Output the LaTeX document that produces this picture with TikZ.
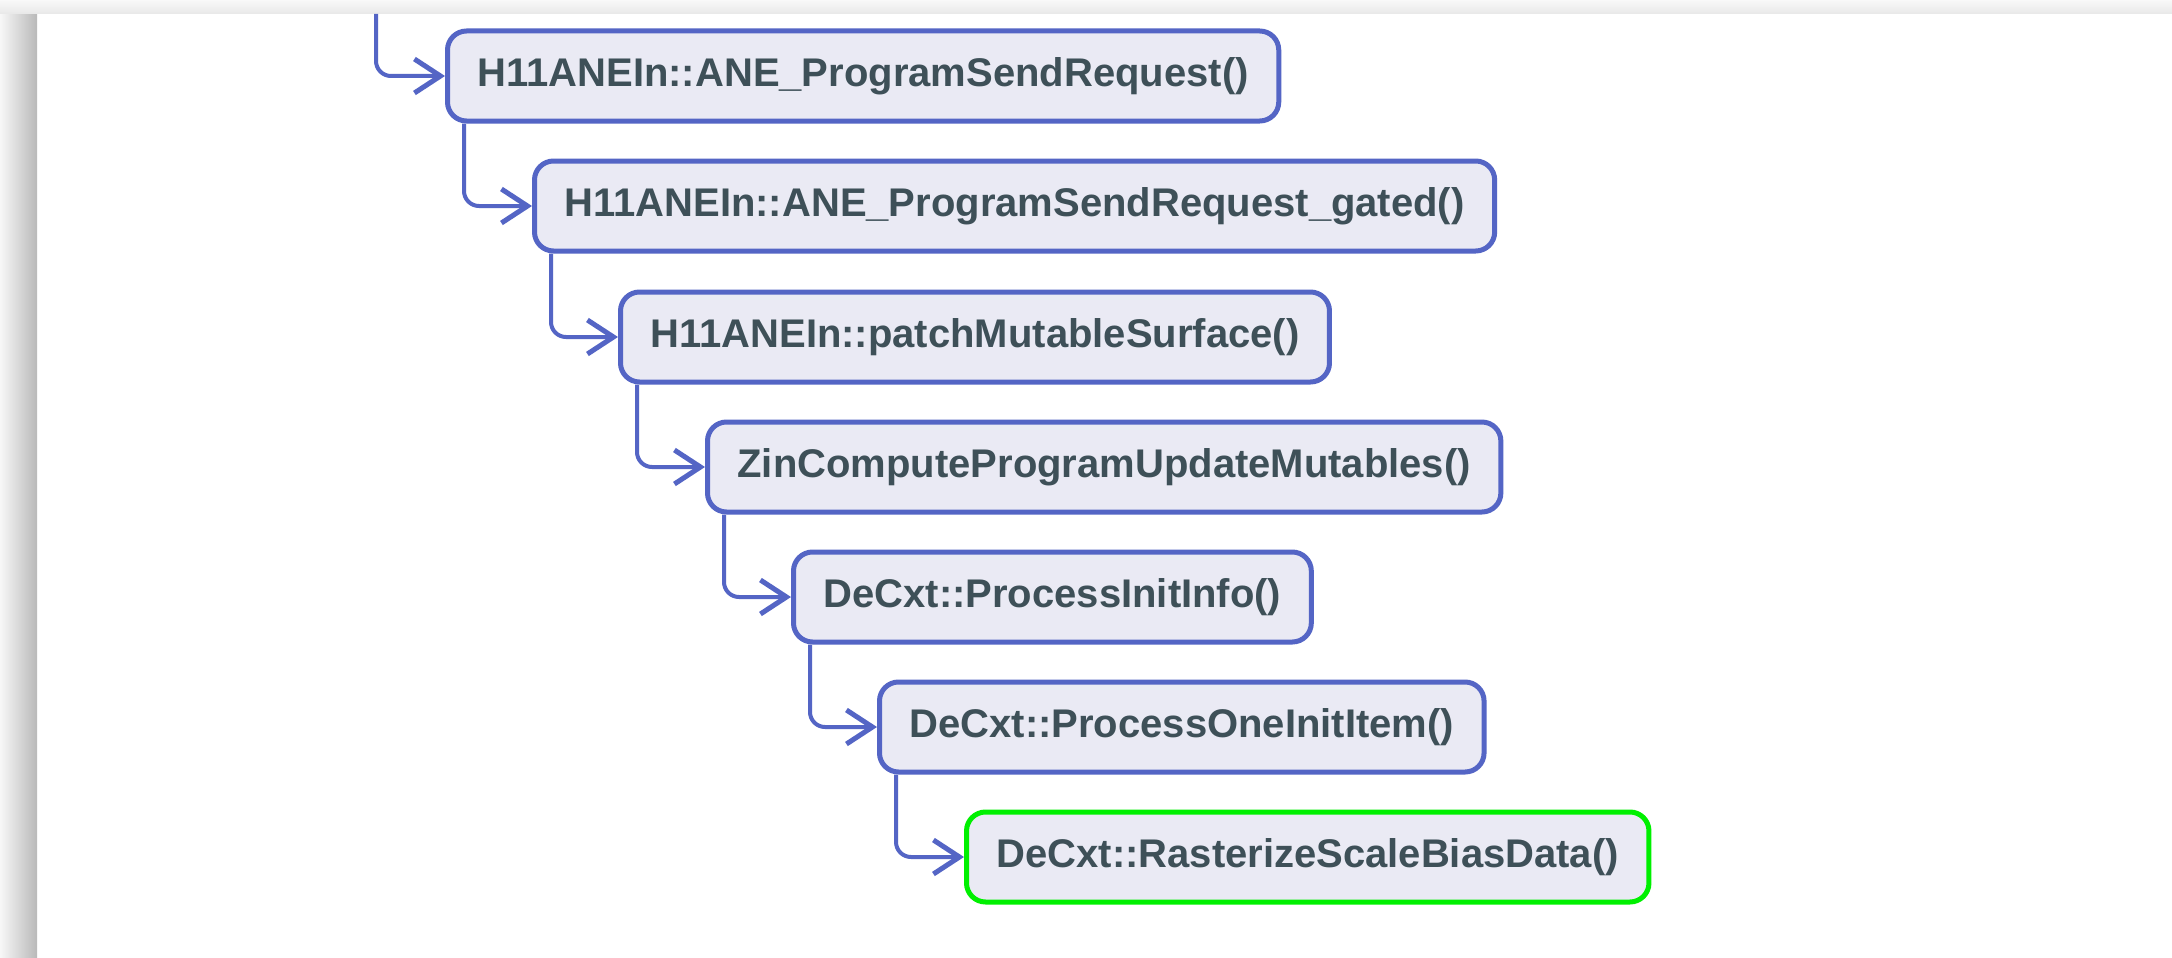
\documentclass[tikz,border=0pt]{standalone}
\usepackage{fontspec}
\setmainfont{Liberation Sans}
\usetikzlibrary{arrows.meta}
\definecolor{edgeblue}{HTML}{5465C5}
\definecolor{boxfill}{HTML}{EAEAF4}
\definecolor{txt}{HTML}{3E5058}
\definecolor{lime}{HTML}{00F000}
\tikzset{
  callbox/.style={draw=edgeblue, line width=5pt, fill=boxfill, rounded corners=19pt,
    minimum height=90pt, inner xsep=30pt, anchor=west, text=txt,
    font=\fontsize{40}{48}\selectfont\bfseries},
  hitbox/.style={callbox, draw=lime},
  conn/.style={draw=edgeblue, line width=4pt, rounded corners=15pt,
    -{Straight Barb[length=26pt, width=34pt, line width=5pt]}}
}
\begin{document}
\begin{tikzpicture}[x=1pt, y=-1pt]
\useasboundingbox (0,0) rectangle (2172,958);
\fill[white] (0,0) rectangle (2172,958);
\shade[left color=gray!6, right color=gray!55] (0,14) rectangle (37,958);
\shade[top color=gray!5, bottom color=gray!18] (0,0) rectangle (2172,14);
\node[callbox] (n1) at (445,76) {H11ANEIn::ANE\_ProgramSendRequest()};
\node[callbox] (n2) at (532,206) {H11ANEIn::ANE\_ProgramSendRequest\_gated()};
\node[callbox] (n3) at (618,337) {H11ANEIn::patchMutableSurface()};
\node[callbox] (n4) at (705,467) {ZinComputeProgramUpdateMutables()};
\node[callbox] (n5) at (791,597) {DeCxt::ProcessInitInfo()};
\node[callbox] (n6) at (877,727) {DeCxt::ProcessOneInitItem()};
\node[hitbox] (n7) at (964,857) {DeCxt::RasterizeScaleBiasData()};
\coordinate (top) at (376,14);
\draw[conn] (top) |- (n1.west);
\draw[conn] ([xshift=19pt]n1.south west) |- (n2.west);
\draw[conn] ([xshift=19pt]n2.south west) |- (n3.west);
\draw[conn] ([xshift=19pt]n3.south west) |- (n4.west);
\draw[conn] ([xshift=19pt]n4.south west) |- (n5.west);
\draw[conn] ([xshift=19pt]n5.south west) |- (n6.west);
\draw[conn] ([xshift=19pt]n6.south west) |- (n7.west);
\end{tikzpicture}
\end{document}
